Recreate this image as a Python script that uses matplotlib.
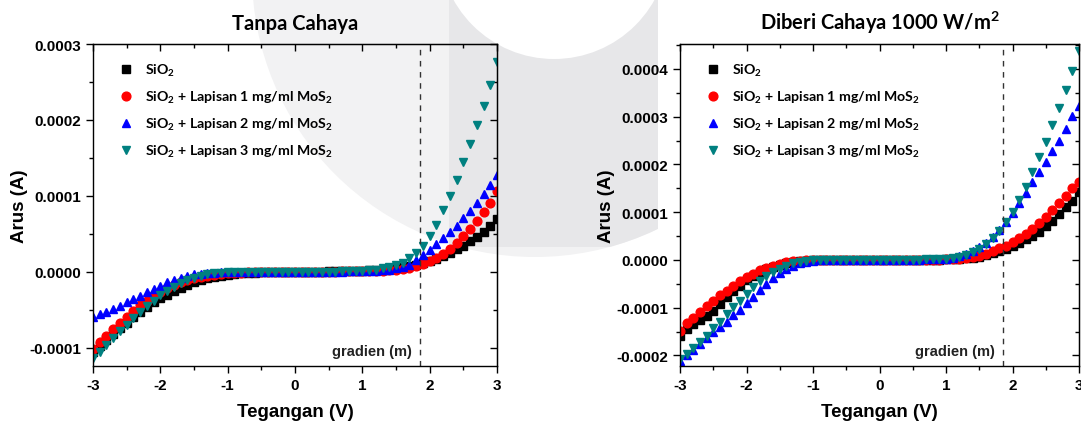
import numpy as np
import matplotlib.pyplot as plt
from matplotlib.patches import Circle, Rectangle
from matplotlib.ticker import MultipleLocator, FuncFormatter

# --- Data (arus dalam satuan 1e-5 A), tegangan -3 .. 3 V, langkah 0.1 V ---
tegangan = np.linspace(-3, 3, 61)

kiri_sio2 = [-10.5, -9.8, -9.0, -8.2, -7.4, -6.7, -6.0, -5.3, -4.6, -4.0,
             -3.5, -3.0, -2.5, -2.1, -1.7, -1.4, -1.1, -0.85, -0.65, -0.5,
             -0.38, -0.28, -0.2, -0.15, -0.1, -0.08, -0.06, -0.04, -0.03, -0.01,
             0.0, 0.01, 0.02, 0.03, 0.04, 0.05, 0.06, 0.08, 0.1, 0.12,
             0.15, 0.2, 0.25, 0.3, 0.38, 0.47, 0.58, 0.72, 0.9, 1.1,
             1.4, 1.7, 2.1, 2.5, 3.0, 3.4, 4.0, 4.6, 5.3, 6.0,
             7.0]
kiri_1mg = [-10.1, -9.3, -8.4, -7.5, -6.7, -6.0, -5.2, -4.4, -3.8, -3.1,
            -2.6, -2.1, -1.7, -1.4, -1.1, -0.85, -0.65, -0.5, -0.38, -0.28,
            -0.2, -0.15, -0.1, -0.08, -0.06, -0.04, -0.03, -0.02, -0.01, -0.005,
            0.0, 0.005, 0.01, 0.015, 0.02, 0.03, 0.04, 0.05, 0.06, 0.07,
            0.08, 0.1, 0.13, 0.17, 0.22, 0.3, 0.4, 0.55, 0.75, 1.0,
            1.4, 1.8, 2.4, 3.0, 3.8, 4.7, 5.7, 6.7, 7.9, 9.1,
            10.7]
kiri_2mg = [-5.9, -5.6, -5.3, -4.9, -4.5, -4.0, -3.6, -3.2, -2.7, -2.3,
            -1.8, -1.4, -1.1, -0.8, -0.5, -0.35, -0.25, -0.15, -0.1, -0.07,
            -0.05, -0.03, -0.02, -0.01, 0.0, 0.0, 0.0, 0.0, 0.0, 0.0,
            0.0, 0.005, 0.01, 0.015, 0.02, 0.025, 0.03, 0.04, 0.05, 0.06,
            0.08, 0.1, 0.14, 0.2, 0.3, 0.45, 0.65, 0.95, 1.5, 2.2,
            2.9, 3.6, 4.5, 5.3, 6.1, 7.1, 8.0, 9.1, 10.3, 11.4,
            12.7]
kiri_3mg = [-11.4, -10.5, -9.6, -8.7, -7.8, -7.0, -6.1, -5.3, -4.5, -3.8,
            -3.1, -2.5, -2.0, -1.5, -1.1, -0.8, -0.5, -0.3, -0.2, -0.1,
            -0.06, -0.04, -0.02, -0.01, 0.0, 0.0, 0.0, 0.0, 0.0, 0.0,
            0.0, 0.005, 0.01, 0.015, 0.02, 0.03, 0.04, 0.05, 0.07, 0.09,
            0.12, 0.2, 0.3, 0.45, 0.65, 0.9, 1.2, 1.8, 2.5, 3.4,
            4.7, 6.2, 8.1, 10.0, 12.1, 14.4, 16.8, 19.3, 21.9, 24.6,
            27.6]

kanan_sio2 = [-15.9, -14.5, -13.4, -12.5, -11.7, -10.6, -9.2, -7.8, -6.4, -5.4,
              -4.3, -3.4, -2.6, -2.0, -1.5, -1.0, -0.7, -0.5, -0.3, -0.2,
              -0.1, -0.07, -0.05, -0.03, -0.02, -0.01, -0.01, 0.0, 0.0, 0.0,
              0.0, 0.01, 0.02, 0.03, 0.04, 0.05, 0.06, 0.07, 0.08, 0.09,
              0.1, 0.15, 0.25, 0.35, 0.5, 0.7, 1.0, 1.4, 1.8, 2.3,
              2.9, 3.6, 4.4, 5.0, 5.9, 7.1, 8.2, 9.6, 11.1, 12.4,
              14.2]
kanan_1mg = [-14.8, -13.2, -12.2, -10.8, -9.6, -8.5, -7.4, -6.6, -5.5, -4.5,
             -3.6, -2.9, -2.2, -1.7, -1.2, -0.8, -0.5, -0.3, -0.2, -0.1,
             -0.07, -0.05, -0.03, -0.02, -0.01, -0.01, 0.0, 0.0, 0.0, 0.0,
             0.0, 0.01, 0.02, 0.03, 0.04, 0.05, 0.06, 0.07, 0.08, 0.09,
             0.1, 0.15, 0.25, 0.4, 0.6, 0.9, 1.3, 1.8, 2.4, 3.0,
             3.8, 4.6, 5.4, 6.5, 7.7, 9.0, 10.5, 11.9, 13.4, 15.1,
             16.3]
kanan_2mg = [-21.1, -19.9, -18.8, -17.6, -16.4, -15.1, -14.1, -12.9, -11.6, -10.4,
             -9.0, -7.7, -6.3, -5.0, -3.8, -2.7, -1.9, -1.2, -0.7, -0.4,
             -0.2, -0.1, -0.05, -0.03, -0.02, -0.01, 0.0, 0.0, 0.0, 0.0,
             0.0, 0.01, 0.02, 0.03, 0.05, 0.07, 0.09, 0.12, 0.16, 0.2,
             0.3, 0.5, 0.8, 1.3, 1.9, 2.7, 3.6, 4.8, 6.3, 7.9,
             9.8, 11.9, 14.0, 16.3, 18.4, 20.6, 22.7, 25.0, 27.4, 30.2,
             32.3]
kanan_3mg = [-20.7, -19.7, -18.5, -17.2, -15.9, -14.3, -12.9, -11.3, -9.9, -8.5,
             -7.1, -5.7, -4.5, -3.4, -2.5, -1.8, -1.2, -0.7, -0.4, -0.2,
             -0.1, -0.05, -0.03, -0.02, -0.01, 0.0, 0.0, 0.0, 0.0, 0.0,
             0.0, 0.01, 0.02, 0.03, 0.04, 0.06, 0.08, 0.1, 0.13, 0.17,
             0.25, 0.4, 0.7, 1.1, 1.6, 2.3, 3.4, 4.6, 6.1, 7.9,
             10.1, 12.6, 15.3, 18.4, 21.6, 24.7, 28.3, 31.8, 35.6, 39.6,
             43.8]

label_seri = ['SiO$_2$',
              'SiO$_2$ + Lapisan 1 mg/ml MoS$_2$',
              'SiO$_2$ + Lapisan 2 mg/ml MoS$_2$',
              'SiO$_2$ + Lapisan 3 mg/ml MoS$_2$']
marker_seri = ['s', 'o', '^', 'v']
warna_seri = ['black', '#ff0000', '#0000ff', '#008080']
garis_gradien = 1.85

plt.rcParams['mathtext.fontset'] = 'custom'
plt.rcParams['mathtext.rm'] = 'Lato:bold'
plt.rcParams['mathtext.it'] = 'Lato:bold'
plt.rcParams['mathtext.bf'] = 'Lato:bold'

fig = plt.figure(figsize=(10.81, 4.27), dpi=100)

# --- watermark abu-abu di latar ---
bg = fig.add_axes([0, 0, 1, 1], zorder=-10)
bg.set_xlim(0, 1081)
bg.set_ylim(427, 0)
bg.axis('off')
lingkar = Circle((535, -25), 283, facecolor='#f2f2f3', edgecolor='none')
bg.add_patch(lingkar)
lingkar.set_clip_path(Rectangle((0, 0), 658, 427, transform=bg.transData))
pita = Rectangle((449, 0), 209, 248, facecolor='#e7e7e9', edgecolor='none')
bg.add_patch(pita)
pita.set_clip_path(lingkar)
bg.add_patch(Circle((554, -55), 115, facecolor='white', edgecolor='none'))

fmt_y = FuncFormatter(lambda v, p: f'{round(v, 6) + 0.0:.4f}')
fmt_x = FuncFormatter(lambda v, p: f'{v:g}')


def gambar_panel(pos, seri, ylim, yticks, judul, ytext):
    ax = fig.add_axes(pos)
    ax.patch.set_alpha(0)
    for y, m, c, lab in zip(seri, marker_seri, warna_seri, label_seri):
        ax.plot(tegangan, np.array(y) * 1e-5, linestyle='none', marker=m,
                color=c, markersize=6.3, label=lab)
    ax.axvline(garis_gradien, color='#333333', linewidth=1.0, dashes=(4, 4))
    ax.text(garis_gradien - 0.12, ytext, 'gradien (m)', ha='right', va='center',
            fontfamily='Liberation Sans', fontweight='bold', fontsize=10.5,
            color='#222222')
    ax.set_xlim(-3, 3)
    ax.set_ylim(*ylim)
    ax.set_xticks(np.arange(-3, 4, 1))
    ax.set_yticks(yticks)
    ax.xaxis.set_minor_locator(MultipleLocator(0.5))
    ax.yaxis.set_minor_locator(MultipleLocator(0.00005))
    ax.xaxis.set_major_formatter(fmt_x)
    ax.yaxis.set_major_formatter(fmt_y)
    ax.tick_params(which='both', direction='out', width=1.0)
    ax.tick_params(which='major', length=5)
    ax.tick_params(which='minor', length=3)
    for lab in ax.get_xticklabels() + ax.get_yticklabels():
        lab.set_fontfamily('Liberation Sans')
        lab.set_fontweight('bold')
        lab.set_fontsize(11)
    for s in ax.spines.values():
        s.set_linewidth(1.0)
    # tick cermin di atas dan kanan
    sx = ax.secondary_xaxis('top')
    sx.set_xticks(np.arange(-3, 4, 1))
    sx.set_xticklabels([])
    sx.xaxis.set_minor_locator(MultipleLocator(0.5))
    sx.tick_params(which='both', direction='in', width=1.0)
    sx.tick_params(which='major', length=5)
    sx.tick_params(which='minor', length=3)
    sy = ax.secondary_yaxis('right')
    sy.set_yticks(yticks)
    sy.set_yticklabels([])
    sy.yaxis.set_minor_locator(MultipleLocator(0.00005))
    sy.tick_params(which='both', direction='in', width=1.0)
    sy.tick_params(which='major', length=5)
    sy.tick_params(which='minor', length=3)

    ax.set_xlabel('Tegangan (V)', fontfamily='Liberation Sans', fontweight='bold',
                  fontsize=13.5, labelpad=8)
    ax.set_ylabel('Arus (A)', fontfamily='Liberation Sans', fontweight='bold',
                  fontsize=13.5, labelpad=1)
    ax.set_title(judul, fontfamily='Lato', fontweight='bold', fontsize=14.5, pad=11)
    ax.legend(loc='upper left', bbox_to_anchor=(0.04, 0.975), frameon=False,
              prop={'family': 'Lato', 'weight': 'bold', 'size': 10.2},
              handlelength=1.0, handletextpad=0.85, labelspacing=0.77,
              borderpad=0.2)
    return ax


gambar_panel([93 / 1081, 60 / 427, 404 / 1081, 322 / 427],
             [kiri_sio2, kiri_1mg, kiri_2mg, kiri_3mg],
             (-0.000124, 0.0003), [-0.0001, 0.0, 0.0001, 0.0002, 0.0003],
             'Tanpa Cahaya', -0.000104)
gambar_panel([680 / 1081, 60 / 427, 399 / 1081, 322 / 427],
             [kanan_sio2, kanan_1mg, kanan_2mg, kanan_3mg],
             (-0.000222, 0.000452),
             [-0.0002, -0.0001, 0.0, 0.0001, 0.0002, 0.0003, 0.0004],
             'Diberi Cahaya 1000 W/m$^2$', -0.000191)

fig.savefig('out.png', dpi=100)
